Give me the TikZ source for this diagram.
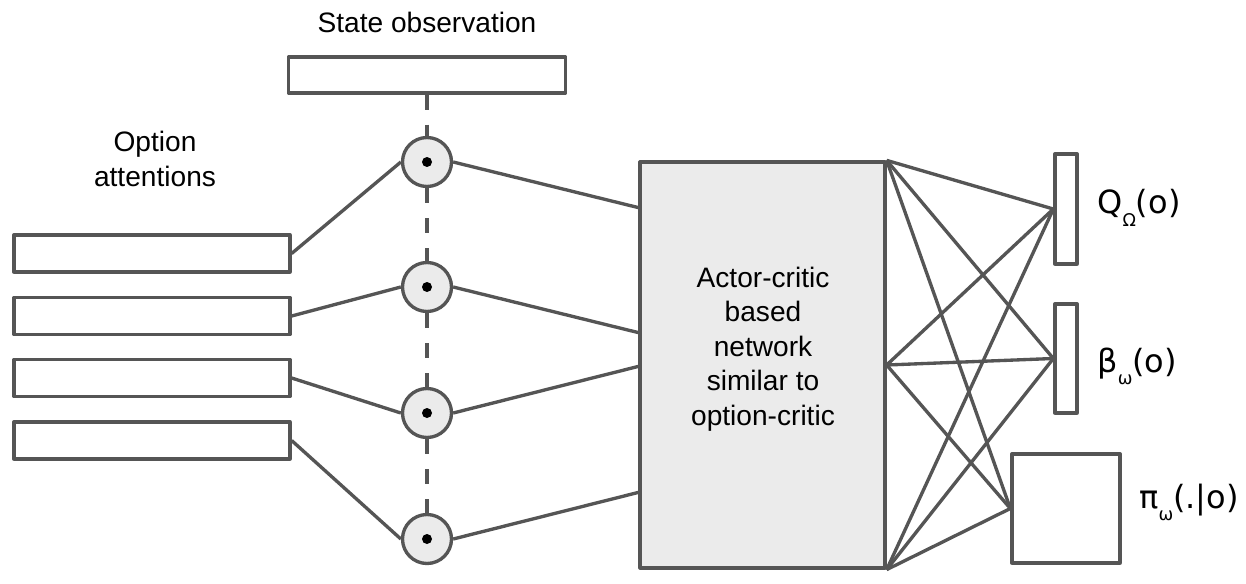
\documentclass[tikz,border=0pt]{standalone}
\usepackage{fontspec}
\setmainfont{Liberation Sans}
\newfontfamily\lblfont{DejaVu Sans}
\usetikzlibrary{positioning}
\definecolor{linegray}{RGB}{85,85,85}
\definecolor{fillgray}{RGB}{235,235,235}
\newcommand{\lowsub}[1]{\raisebox{-7pt}{\fontsize{10}{10}\selectfont #1}}

\begin{document}
\begin{tikzpicture}[
  x=0.02cm,y=-0.02cm,
  font=\fontsize{16}{19.6}\selectfont,
  inbox/.style={draw=linegray,line width=1.9pt,fill=white,line join=round,
                minimum width=5.52cm,minimum height=0.74cm,inner sep=0pt},
  mult/.style={circle,draw=linegray,line width=1.9pt,fill=fillgray,
               minimum size=0.98cm,inner sep=0pt},
  net/.style={draw=linegray,line width=1.9pt,fill=fillgray,line join=round,
              minimum width=4.9cm,minimum height=8.12cm,inner sep=0pt},
  outbox/.style={draw=linegray,line width=1.9pt,fill=white,line join=round,inner sep=0pt},
  outlabel/.style={anchor=base west,inner sep=0pt,font=\lblfont\fontsize{18.2}{20}\selectfont},
  link/.style={draw=linegray,line width=1.9pt},
  dashlink/.style={link,dash pattern=on 0.3cm off 0.3cm}
]
\useasboundingbox (0,0) rectangle (1246,584);
% inputs
\node[inbox,minimum width=5.54cm,minimum height=0.72cm] (state) at (427,75) {};
\node (statetxt) at (427,22) {State observation};
\node[align=center] (opttxt) at (155,159) {Option\\attentions};
\foreach \i/\y in {1/253.5,2/316,3/378,4/440.5}
  \node[inbox] (opt\i) at (152,\y) {};
% attention products
\foreach \i/\y in {1/162,2/287,3/413,4/539} {
  \node[mult] (c\i) at (427,\y) {};
  \fill (c\i) circle[radius=0.1cm];
}
\foreach \a/\b in {state/c1,c1/c2,c2/c3,c3/c4}
  \draw[dashlink] (\a.south) -- (\b.north);
\foreach \i in {1,...,4}
  \draw[link] (opt\i.east) -- (c\i.west);
% network
\node[net] (ac) at (762.5,365) {};
\node[align=center] (actxt) at (763,349) {Actor-critic\\based\\network\\similar to\\option-critic};
\coordinate (in1) at (640,208);
\coordinate (in2) at (640,333);
\coordinate (in3) at (640,366);
\coordinate (in4) at (640,492);
\foreach \i in {1,...,4}
  \draw[link] (c\i.east) -- (in\i);
% outputs
\node[outbox,minimum width=0.44cm,minimum height=2.2cm] (qval) at (1066,209) {};
\node[outbox,minimum width=0.44cm,minimum height=2.18cm] (term) at (1066,358.5) {};
\node[outbox,minimum width=2.16cm,minimum height=2.18cm] (pol) at (1066,508.5) {};
\node[outlabel] (qlbl) at (1097,214) {Q\lowsub{Ω}(o)};
\node[outlabel] (blbl) at (1097,372) {β\lowsub{ω}(o)};
\node[outlabel] (plbl) at (1139,508) {π\lowsub{ω}(.|o)};
\foreach \s in {north east,east,south east}
  \foreach \t in {qval,term,pol}
    \draw[link] (ac.\s) -- (\t.west);
\end{tikzpicture}
\end{document}
